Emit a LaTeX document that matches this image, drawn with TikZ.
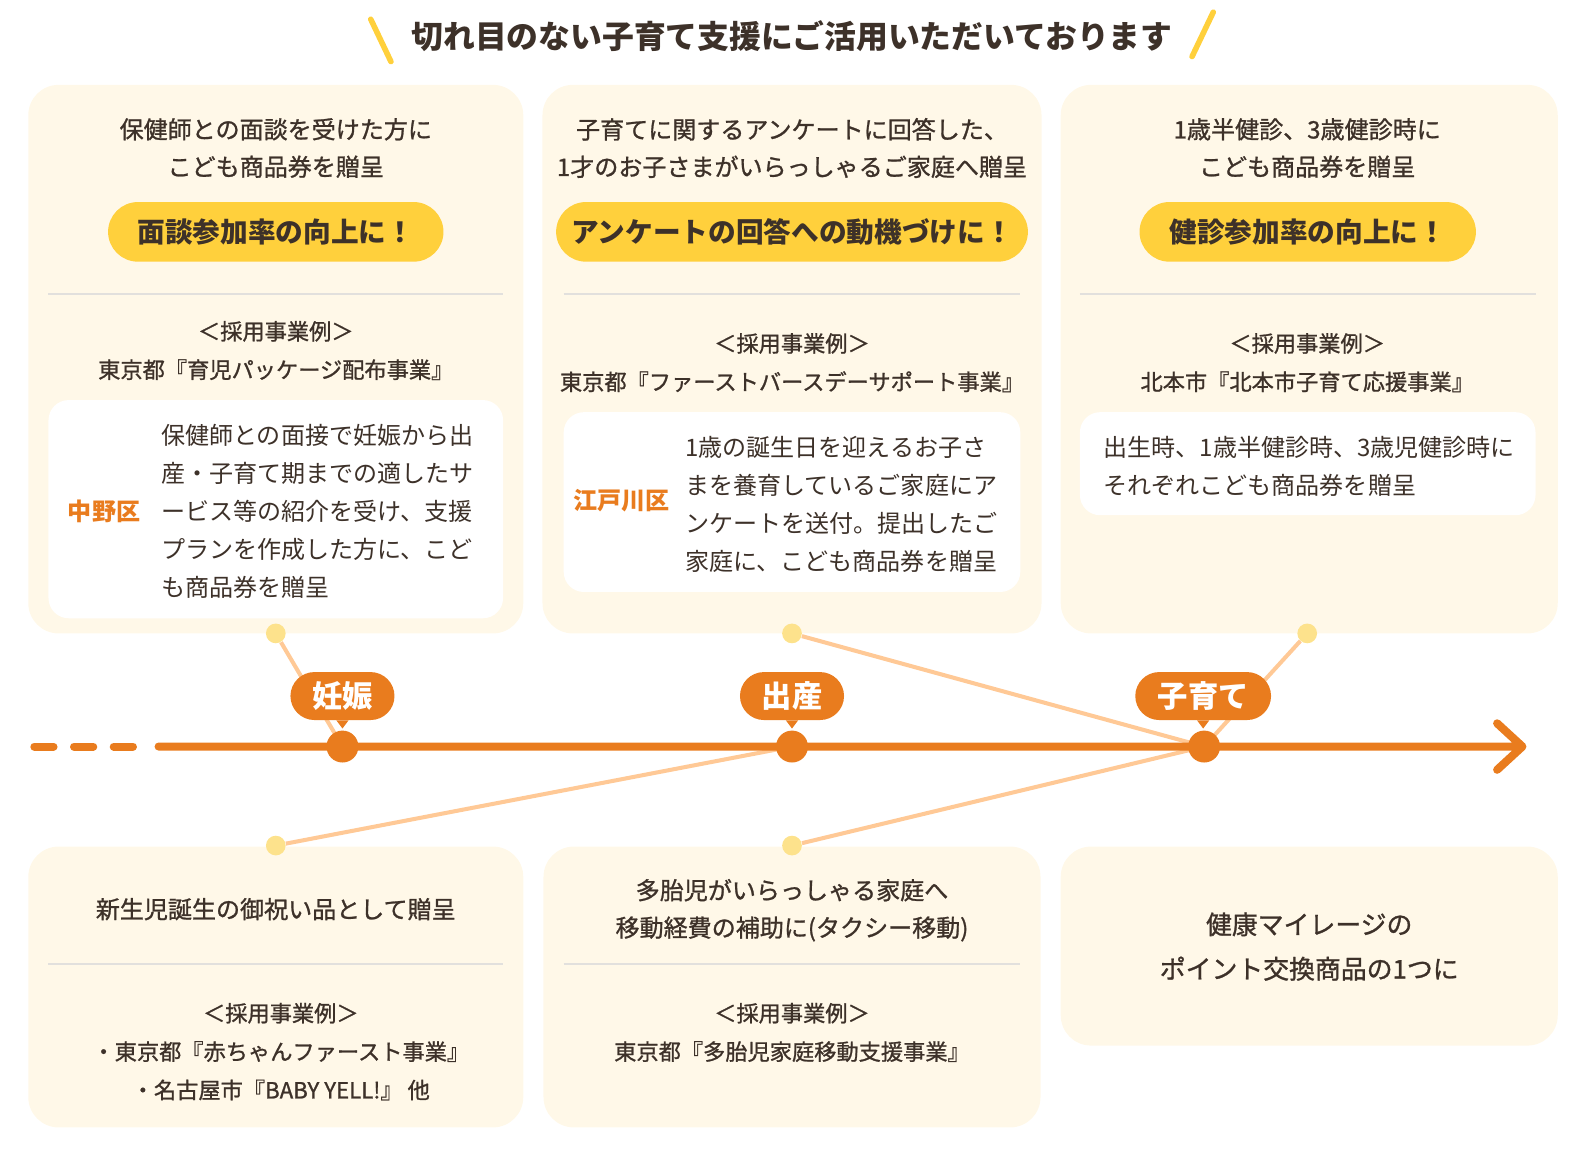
\documentclass[tikz,border=0pt]{standalone}
\usepackage{fontspec}
\setmainfont{Noto Sans CJK JP}
\newfontfamily\mediumfont{Noto Sans CJK JP}[FakeBold=1]
\usepackage{tikz}
\usetikzlibrary{positioning, graphs}

\definecolor{ink}{HTML}{3D3129}
\definecolor{cream}{HTML}{FFF8E8}
\definecolor{honey}{HTML}{FFD03C}
\definecolor{pumpkin}{HTML}{E97C1E}
\definecolor{peach}{HTML}{FFC996}
\definecolor{butter}{HTML}{FDE28C}
\definecolor{rule}{HTML}{E2E0DD}

\begin{document}
\begin{tikzpicture}[x=0.5pt, y=-0.5pt, node distance=10pt,
    card/.style={fill=cream, rounded corners=15pt, inner sep=0pt},
    memo/.style={fill=white, rounded corners=10pt, inner sep=0pt},
    pill/.style={fill=honey, rounded corners=14.75pt, minimum height=29.5pt, inner sep=0pt, text=ink, font=\fontsize{13.7pt}{16pt}\selectfont\bfseries},
    heading/.style={align=center, text=ink, inner sep=0pt, font=\fontsize{11.9pt}{18.5pt}\selectfont\mediumfont},
    body/.style={align=left, text=ink, inner sep=0pt, font=\fontsize{11.9pt}{18.75pt}\selectfont},
    case/.style={align=center, text=ink, inner sep=0pt, font=\fontsize{11pt}{19pt}\selectfont\mediumfont},
    ward/.style={text=pumpkin, inner sep=0pt, font=\fontsize{11.9pt}{14pt}\selectfont\bfseries},
    divider/.style={draw=rule, line width=1pt},
    tack/.style={circle, fill=butter, minimum size=9.75pt, inner sep=0pt},
    stage dot/.style={circle, fill=pumpkin, minimum size=15.8pt, inner sep=0pt},
    stage/.style={fill=pumpkin, rounded corners=11.875pt, minimum height=23.75pt, inner sep=0pt, text=white, font=\fontsize{15pt}{17pt}\selectfont\bfseries},
    link/.style={draw=peach, line width=2pt},
    timeline/.style={draw=pumpkin, line width=4pt, line cap=round, line join=round},
    slash/.style={draw=honey, line width=2.75pt, line cap=round}]
    \useasboundingbox (0,0) rectangle (1568,1148);

    \node[text=ink, font=\fontsize{15.75pt}{18pt}\selectfont\bfseries] (title) at (784,36) {切れ目のない子育て支援にご活用いただいております};
    \draw[slash] (367,19) -- (387,61);
    \draw[slash] (1201,12) -- (1180,56);

    \node[card, minimum width=245pt, minimum height=271.5pt] (card 1) at (273,355.5) {};
    \node[heading] (heading 1) at (273,146.5) {保健師との面談を受けた方に\\こども商品券を贈呈};
    \node[pill, minimum width=166pt] (pill 1) at (273,229.5) {面談参加率の向上に！};
    \draw[divider] (48,291) -- (498,291);
    \node[case] (case 1) at (273,347) {＜採用事業例＞\\東京都『育児パッケージ配布事業』};
    \node[memo, minimum width=225pt, minimum height=108pt] (memo 1) at (273,504) {};
    \node[ward] (ward 1) at (103,506) {中野区};
    \node[body, anchor=west] (body 1) at (159,506) {保健師との面接で妊娠から出\\産・子育て期までの適したサ\\ービス等の紹介を受け、支援\\プランを作成した方に、こど\\も商品券を贈呈};

    \node[card, minimum width=247pt, minimum height=271.5pt] (card 2) at (784,355.5) {};
    \node[heading] (heading 2) at (784,146.5) {子育てに関するアンケートに回答した、\\1才のお子さまがいらっしゃるご家庭へ贈呈};
    \node[pill, minimum width=233.5pt] (pill 2) at (784,229.5) {アンケートの回答への動機づけに！};
    \draw[divider] (558,291) -- (1010,291);
    \node[case] (case 2) at (784,359) {＜採用事業例＞\\東京都『ファーストバースデーサポート事業』};
    \node[memo, minimum width=226pt, minimum height=89pt] (memo 2) at (784,497) {};
    \node[ward] (ward 2) at (615,496) {江戸川区};
    \node[body, anchor=west] (body 2) at (678,499) {1歳の誕生日を迎えるお子さ\\まを養育しているご家庭にア\\ンケートを送付。提出したご\\家庭に、こども商品券を贈呈};

    \node[card, minimum width=246pt, minimum height=271.5pt] (card 3) at (1296,355.5) {};
    \node[heading] (heading 3) at (1294,146.5) {1歳半健診、3歳健診時に\\こども商品券を贈呈};
    \node[pill, minimum width=166.5pt] (pill 3) at (1294.5,229.5) {健診参加率の向上に！};
    \draw[divider] (1069,291) -- (1520,291);
    \node[case] (case 3) at (1294,359) {＜採用事業例＞\\北本市『北本市子育て応援事業』};
    \node[memo, minimum width=225.5pt, minimum height=51pt] (memo 3) at (1294.5,459) {};
    \node[body, anchor=west] (body 3) at (1092,462) {出生時、1歳半健診時、3歳児健診時に\\それぞれこども商品券を贈呈};

    \node[card, minimum width=245pt, minimum height=139pt] (card 4) at (273,977) {};
    \node[heading] (heading 4) at (273,900) {新生児誕生の御祝い品として贈呈};
    \draw[divider] (48,954) -- (498,954);
    \node[case] (case 4) at (278,1041) {＜採用事業例＞\\・東京都『赤ちゃんファースト事業』\\・名古屋市『BABY YELL!』 他};

    \node[card, minimum width=246pt, minimum height=139pt] (card 5) at (784,977) {};
    \node[heading] (heading 5) at (784,901) {多胎児がいらっしゃる家庭へ\\移動経費の補助に(タクシー移動)};
    \draw[divider] (558,954) -- (1010,954);
    \node[case] (case 5) at (784,1022) {＜採用事業例＞\\東京都『多胎児家庭移動支援事業』};

    \node[card, minimum width=246pt, minimum height=98.5pt] (card 6) at (1296,936.5) {};
    \node[heading, font=\fontsize{12.8pt}{22pt}\selectfont\mediumfont] (heading 6) at (1296,937) {健康マイレージの\\ポイント交換商品の1つに};

    \coordinate (moment 1) at (339,739);
    \coordinate (moment 2) at (784,739);
    \coordinate (moment 3) at (1192,739);
    \node[tack] (tack 1) at (273,627) {};
    \node[tack] (tack 2) at (784,627) {};
    \node[tack] (tack 3) at (1294,627) {};
    \node[tack] (tack 4) at (273,837) {};
    \node[tack] (tack 5) at (784,837) {};

    \graph{(tack 1) --[link] (moment 1);
    (tack 2) --[link] (moment 3);
    (tack 3) --[link] (moment 3);
    (tack 4) --[link] (moment 2);
    (tack 5) --[link] (moment 3)};

    \draw[timeline, dash pattern=on 9.5pt off 10.15pt] (34,739) -- (132,739);
    \draw[timeline] (157,739) -- (1507,739) (1482,716) -- (1507,739) -- (1482,762);

    \node[stage dot] (dot 1) at (moment 1) {};
    \node[stage dot] (dot 2) at (moment 2) {};
    \node[stage dot] (dot 3) at (moment 3) {};
    \node[stage, minimum width=51.5pt] (stage 1) at (339,689) {妊娠};
    \node[stage, minimum width=51.5pt] (stage 2) at (784,689) {出産};
    \node[stage, minimum width=67.2pt] (stage 3) at (1191,689) {子育て};
    \fill[pumpkin] ([xshift=-3pt]stage 1.south) -- ([xshift=3pt]stage 1.south) -- ([yshift=-4pt]stage 1.south) -- cycle;
    \fill[pumpkin] ([xshift=-3pt]stage 2.south) -- ([xshift=3pt]stage 2.south) -- ([yshift=-4pt]stage 2.south) -- cycle;
    \fill[pumpkin] ([xshift=-3pt]stage 3.south) -- ([xshift=3pt]stage 3.south) -- ([yshift=-4pt]stage 3.south) -- cycle;
\end{tikzpicture}
\end{document}
